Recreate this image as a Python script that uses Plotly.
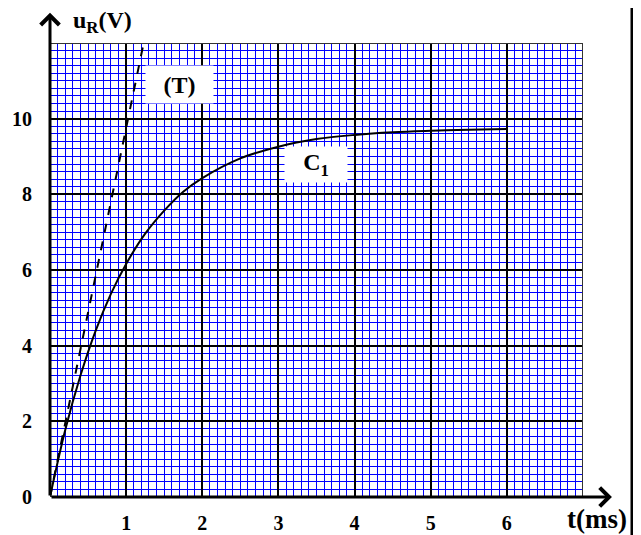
import plotly.graph_objects as go

# courbe C1 : tension aux bornes de R
t_ms = [0, 0.2, 0.4, 0.6, 0.8, 1.0, 1.25, 1.5, 1.75, 2.0, 2.5, 3.0, 3.5, 4.0, 4.5, 5.0, 5.5, 6.0]
u_R = [0, 1.77, 3.21, 4.40, 5.37, 6.16, 6.96, 7.57, 8.07, 8.43, 8.95, 9.26, 9.46, 9.57, 9.64, 9.68, 9.71, 9.73]

# tangente (T) a l'origine
tan_t = [0, 1.23]
tan_u = [0, 12.0]

x_ticks = [1, 2, 3, 4, 5, 6]
y_ticks = [0, 2, 4, 6, 8, 10]

police = dict(family="Liberation Serif", size=20, color="black", weight="bold")

fig = go.Figure()

fig.add_trace(go.Scatter(x=t_ms, y=u_R, mode="lines", line=dict(color="black", width=2, shape="spline"),
                         name="C1", showlegend=False))
fig.add_trace(go.Scatter(x=tan_t, y=tan_u, mode="lines", line=dict(color="black", width=2, dash="dash"),
                         name="T", showlegend=False))

fig.update_xaxes(range=[0, 7], tickvals=x_ticks, showgrid=True, gridcolor="black", gridwidth=2,
                 minor=dict(dtick=0.1, showgrid=True, gridcolor="#0000ff", gridwidth=1),
                 showline=False, zeroline=False, tickfont=police, ticklabelstandoff=12, ticks="",
                 automargin=False)
fig.update_yaxes(range=[0, 12], tickvals=y_ticks, showgrid=True, gridcolor="black", gridwidth=2,
                 minor=dict(dtick=0.2, showgrid=True, gridcolor="#0000ff", gridwidth=1),
                 showline=False, zeroline=False, tickfont=police, ticklabelstandoff=17, ticks="",
                 automargin=False)

# cadre du papier millimetre
fig.add_shape(type="rect", xref="x", yref="y", x0=0, y0=0, x1=7, y1=12,
              line=dict(color="#333333", width=2))

# axes avec fleches (la queue doit rester dans le repere)
fig.add_annotation(x=7.38, y=0, ax=0, ay=0, xref="x", yref="y", axref="x", ayref="y",
                   showarrow=True, arrowhead=4, arrowsize=1.2, arrowwidth=3, arrowcolor="black", text="")
fig.add_annotation(x=0, y=12.8, ax=0, ay=0, xref="x", yref="y", axref="x", ayref="y",
                   showarrow=True, arrowhead=4, arrowsize=1.2, arrowwidth=3, arrowcolor="black", text="")

# etiquettes des courbes (fond blanc)
fig.add_annotation(x=1.70, y=10.9, xref="x", yref="y", text="(T)", showarrow=False,
                   font=dict(family="Liberation Serif", size=24, color="black", weight="bold"),
                   bgcolor="white", width=65, height=35)
fig.add_annotation(x=3.49, y=8.79, xref="x", yref="y", text="C<sub>1</sub>", showarrow=False,
                   font=dict(family="Liberation Serif", size=24, color="black", weight="bold"),
                   bgcolor="white", width=60, height=33)

# titres des axes (positions en pixels de la page)
titres = [("u<sub>R</sub>(V)", 102, 22, 24), ("t(ms)", 597, 519, 27)]
for txt, px, py, taille in titres:
    fig.add_annotation(x=(px - 50) / 533, y=(497 - py) / 454, xref="paper", yref="paper",
                       xanchor="center", yanchor="middle", text=txt, showarrow=False,
                       font=dict(family="Liberation Serif", size=taille, color="black", weight="bold"))

# bord droit de la page
fig.add_shape(type="line", xref="paper", yref="paper", x0=(632 - 50) / 533, x1=(632 - 50) / 533,
              y0=-38 / 454, y1=505 / 454, line=dict(color="black", width=3))

# la page html ajoute une marge de 8 px : on la compense
fig.update_layout(width=633, height=527, margin=dict(l=42, r=58, t=35, b=38),
                  plot_bgcolor="white", paper_bgcolor="white")

fig.write_html("out.html")
